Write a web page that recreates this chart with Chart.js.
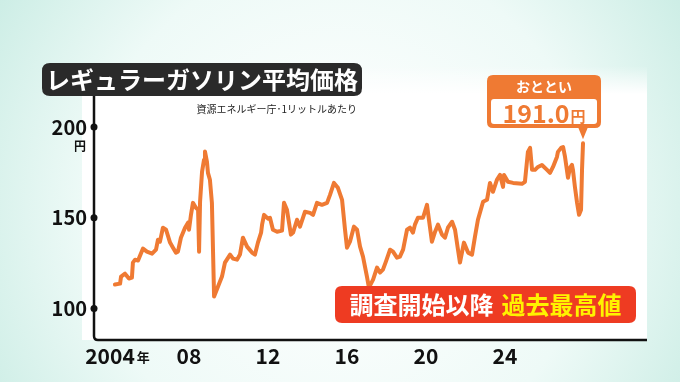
<!DOCTYPE html>
<html><head><meta charset="utf-8">
<script src="https://cdn.jsdelivr.net/npm/chart.js@4/dist/chart.umd.min.js"></script>
<style>html,body{margin:0;padding:0;background:#fff;}canvas{display:block;}</style>
</head><body>
<canvas id="c" width="680" height="382"></canvas>
<script>
// ---- data ----
const years = [2004.25,2004.51,2004.56,2004.76,2004.96,2005.11,2005.16,2005.27,2005.42,2005.67,2005.87,2006.13,2006.33,2006.43,2006.53,2006.68,2006.84,2007.04,2007.19,2007.34,2007.44,2007.59,2007.80,2007.95,2008.00,2008.10,2008.20,2008.35,2008.46,2008.51,2008.56,2008.66,2008.76,2008.81,2008.91,2008.96,2009.06,2009.16,2009.27,2009.47,2009.67,2009.82,2010.08,2010.23,2010.43,2010.58,2010.73,2010.94,2011.19,2011.34,2011.49,2011.65,2011.70,2011.80,2012.00,2012.10,2012.25,2012.46,2012.71,2012.81,2012.96,2013.16,2013.27,2013.47,2013.62,2013.87,2014.13,2014.28,2014.48,2014.73,2014.99,2015.14,2015.34,2015.54,2015.75,2015.90,2016.00,2016.15,2016.35,2016.51,2016.66,2016.81,2017.01,2017.11,2017.32,2017.52,2017.67,2017.82,2017.97,2018.18,2018.33,2018.53,2018.68,2018.84,2019.04,2019.19,2019.34,2019.44,2019.59,2019.85,2020.05,2020.15,2020.30,2020.46,2020.61,2020.81,2020.96,2021.11,2021.32,2021.47,2021.62,2021.72,2021.92,2022.13,2022.33,2022.48,2022.63,2022.89,2023.09,2023.24,2023.39,2023.59,2023.75,2023.90,2023.95,2024.15,2024.41,2024.86,2025.01,2025.16,2025.27,2025.37,2025.52,2025.67,2025.87,2026.13,2026.28,2026.43,2026.63,2026.68,2026.84,2026.94,2027.04,2027.19,2027.29,2027.39,2027.44,2027.54,2027.65,2027.75,2027.85,2027.90,2027.95];
const prices = [113.2,113.7,117.6,119.2,116.5,117.0,125.3,126.9,126.4,133.0,131.3,130.2,132.4,137.9,136.8,144.5,143.4,136.3,133.5,130.8,131.3,139.0,144.5,147.3,143.4,151.6,158.2,155.5,154.4,131.3,158.8,175.3,181.9,186.5,180.8,174.7,170.9,158.2,106.6,112.1,117.6,125.3,129.7,127.5,126.9,129.7,139.0,134.1,130.8,129.7,136.3,141.8,146.2,151.6,149.5,150.0,143.4,142.3,142.9,158.2,154.4,140.7,141.8,148.9,145.1,153.3,152.7,151.6,158.2,157.1,158.2,162.6,169.2,166.5,159.9,143.4,133.5,136.8,145.1,143.4,134.1,128.6,117.6,111.5,115.9,122.5,119.8,121.4,125.8,132.4,131.3,128.0,128.6,132.4,143.4,144.5,141.8,146.2,150.0,150.0,157.1,148.9,136.8,142.3,146.2,140.7,139.0,144.5,147.8,143.4,132.4,125.3,136.3,130.8,129.7,139.6,148.9,158.8,159.9,169.2,164.3,170.9,173.6,167.0,173.6,169.8,169.2,168.7,169.8,186.3,188.5,176.4,176.4,178.0,179.1,176.4,174.7,178.0,183.5,186.3,188.5,189.0,183.5,172.0,177.5,179.1,176.4,167.0,158.2,151.6,154.4,176.4,191.0];
const yTickValues = [100, 150, 200];
const yTickLabels = ['100', '150', '200'];
const yUnit = '円';
const xTickValues = [2004, 2008, 2012, 2016, 2020, 2024];
const xTickLabels = ['2004', '08', '12', '16', '20', '24'];
const xFirstUnit = '年';
const titleText = 'レギュラーガソリン平均価格';
const sourceText = '資源エネルギー庁･1リットルあたり';
const calloutLabel = 'おととい';
const calloutValue = '191.0';
const calloutUnit = '円';
const bannerWhite = '調査開始以降';
const bannerYellow = '過去最高値';

const FONT = '"Noto Sans CJK JP", "Noto Sans", sans-serif';
const ORANGE = '#ef7a33';

function rr(ctx, x, y, w, h, r) {
  ctx.beginPath();
  ctx.moveTo(x + r, y);
  ctx.lineTo(x + w - r, y);
  ctx.quadraticCurveTo(x + w, y, x + w, y + r);
  ctx.lineTo(x + w, y + h - r);
  ctx.quadraticCurveTo(x + w, y + h, x + w - r, y + h);
  ctx.lineTo(x + r, y + h);
  ctx.quadraticCurveTo(x, y + h, x, y + h - r);
  ctx.lineTo(x, y + r);
  ctx.quadraticCurveTo(x, y, x + r, y);
  ctx.closePath();
}

const decor = {
  id: 'decor',
  beforeDraw(chart) {
    const ctx = chart.ctx, a = chart.chartArea;
    const W = chart.width, H = chart.height;
    ctx.save();
    const g = ctx.createRadialGradient(W * 0.5, H * 0.55, 40, W * 0.5, H * 0.55, 430);
    g.addColorStop(0, '#ffffff');
    g.addColorStop(0.55, '#eefaf7');
    g.addColorStop(1, '#c6ebe2');
    ctx.fillStyle = g;
    ctx.fillRect(0, 0, W, H);
    const pg = ctx.createLinearGradient(0, a.top - 22, 0, a.top + 6);
    pg.addColorStop(0, 'rgba(255,255,255,0)');
    pg.addColorStop(1, 'rgba(255,255,255,1)');
    ctx.fillStyle = pg;
    ctx.fillRect(a.left - 12, a.top - 22, a.right - a.left + 12, 28);
    ctx.fillStyle = '#ffffff';
    ctx.fillRect(a.left - 12, a.top + 6, a.right - a.left + 12, a.bottom - a.top - 6);
    ctx.restore();
  },
  afterDatasetsDraw(chart) {
    const ctx = chart.ctx, a = chart.chartArea;
    const xs = chart.scales.x, ys = chart.scales.y;
    ctx.save();
    ctx.strokeStyle = '#111';
    ctx.lineWidth = 2.5;
    ctx.lineJoin = 'round';
    ctx.beginPath();
    ctx.moveTo(a.left, 95);
    ctx.lineTo(a.left, a.bottom - 4);
    ctx.quadraticCurveTo(a.left, a.bottom, a.left + 4, a.bottom);
    ctx.lineTo(a.right, a.bottom);
    ctx.stroke();
    ctx.fillStyle = '#111';
    ctx.textBaseline = 'middle';
    yTickValues.forEach((v, i) => {
      const py = ys.getPixelForValue(v);
      ctx.beginPath();
      ctx.arc(a.left, py, 3.5, 0, Math.PI * 2);
      ctx.fill();
      ctx.font = 'bold 20px ' + FONT;
      ctx.textAlign = 'right';
      ctx.fillText(yTickLabels[i], a.left - 7, py);
      if (i === yTickValues.length - 1) {
        ctx.font = 'bold 12px ' + FONT;
        ctx.fillText(yUnit, a.left - 8, py + 19);
      }
    });
    xTickValues.forEach((v, i) => {
      const px = xs.getPixelForValue(v);
      ctx.font = 'bold 21px ' + FONT;
      ctx.textAlign = 'center';
      ctx.fillText(xTickLabels[i], px, 356);
      if (i === 0) {
        const w = ctx.measureText(xTickLabels[i]).width;
        ctx.font = 'bold 13px ' + FONT;
        ctx.textAlign = 'left';
        ctx.fillText(xFirstUnit, px + w / 2 + 2, 357);
      }
    });
    ctx.fillStyle = '#2a2a2a';
    rr(ctx, 42, 63, 320, 33, 8);
    ctx.fill();
    ctx.fillStyle = '#ffffff';
    ctx.font = 'bold 24px ' + FONT;
    ctx.textAlign = 'center';
    ctx.fillText(titleText, 202, 80);
    ctx.fillStyle = '#222';
    ctx.font = '10px ' + FONT;
    ctx.textAlign = 'right';
    ctx.fillText(sourceText, 357, 109);
    const lx = xs.getPixelForValue(years[years.length - 1]);
    const ly = ys.getPixelForValue(prices[prices.length - 1]);
    const bx = lx - 96, bw = 114, by = 75, bh = 53;
    ctx.fillStyle = ORANGE;
    rr(ctx, bx, by, bw, bh, 6);
    ctx.fill();
    ctx.beginPath();
    ctx.moveTo(lx - 5, by + bh - 1);
    ctx.lineTo(lx + 5, by + bh - 1);
    ctx.lineTo(lx, ly - 4);
    ctx.closePath();
    ctx.fill();
    ctx.fillStyle = '#ffffff';
    rr(ctx, bx + 4, by + 24, bw - 8, bh - 28, 3);
    ctx.fill();
    ctx.font = 'bold 14px ' + FONT;
    ctx.textAlign = 'center';
    ctx.fillText(calloutLabel, bx + bw / 2, by + 12);
    ctx.fillStyle = ORANGE;
    ctx.font = 'bold 25px ' + FONT;
    const vw = ctx.measureText(calloutValue).width;
    ctx.font = 'bold 15px ' + FONT;
    const uw = ctx.measureText(calloutUnit).width;
    const sx = bx + bw / 2 - (vw + uw + 1) / 2;
    ctx.textAlign = 'left';
    ctx.font = 'bold 25px ' + FONT;
    ctx.fillText(calloutValue, sx, by + 38);
    ctx.font = 'bold 15px ' + FONT;
    ctx.fillText(calloutUnit, sx + vw + 1, by + 41);
    ctx.fillStyle = '#ee3b22';
    rr(ctx, 335, 286, 301, 37, 7);
    ctx.fill();
    ctx.font = 'bold 24px ' + FONT;
    const w1 = ctx.measureText(bannerWhite).width;
    const w2 = ctx.measureText(bannerYellow).width;
    const gap = 8;
    let tx = 335 + 301 / 2 - (w1 + gap + w2) / 2;
    ctx.textAlign = 'left';
    ctx.fillStyle = '#ffffff';
    ctx.fillText(bannerWhite, tx, 305);
    ctx.fillStyle = '#fff200';
    ctx.fillText(bannerYellow, tx + w1 + gap, 305);
    ctx.restore();
  }
};

new Chart(document.getElementById('c'), {
  type: 'line',
  data: {
    datasets: [{
      data: years.map((y, i) => ({ x: y, y: prices[i] })),
      borderColor: ORANGE,
      borderWidth: 4,
      pointRadius: 0,
      tension: 0,
      borderJoinStyle: 'round',
      borderCapStyle: 'round'
    }]
  },
  options: {
    responsive: false,
    animation: false,
    devicePixelRatio: 1,
    layout: { padding: { left: 94, top: 88, right: 33, bottom: 42 } },
    plugins: { legend: { display: false }, tooltip: { enabled: false } },
    scales: {
      x: { type: 'linear', display: false, min: 2003.19, max: 2031.19 },
      y: { type: 'linear', display: false, min: 82.64, max: 221.49 }
    }
  },
  plugins: [decor]
});
</script>
</body></html>
